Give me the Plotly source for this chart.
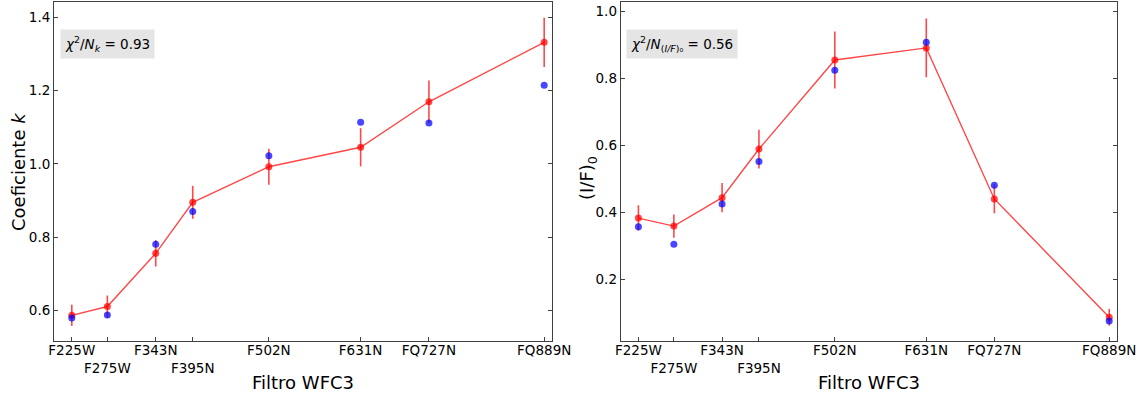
import plotly.graph_objects as go

# WFC3 filters and their central wavelengths (nm)
filters = ["F225W", "F275W", "F343N", "F395N", "F502N", "F631N", "FQ727N", "FQ889N"]
wavelength = [225, 275, 343, 395, 502, 631, 727, 889]
# filters whose label goes on the second row (crowded short-wavelength end)
lower_row = ["F275W", "F395N"]

# Coefficient k: retrieved values, their errors, and model values
k_obs = [0.587, 0.611, 0.756, 0.895, 0.992, 1.045, 1.169, 1.331]
k_err = [0.029, 0.030, 0.036, 0.045, 0.049, 0.052, 0.058, 0.067]
k_model = [0.580, 0.588, 0.781, 0.870, 1.022, 1.113, 1.111, 1.214]

# (I/F)_0: retrieved values, their errors, and model values
if_obs = [0.382, 0.358, 0.443, 0.588, 0.854, 0.890, 0.439, 0.086]
if_err = [0.038, 0.035, 0.044, 0.058, 0.085, 0.088, 0.043, 0.025]
if_model = [0.356, 0.304, 0.424, 0.551, 0.823, 0.907, 0.480, 0.075]

chi_k = 0.93
chi_if = 0.56

RED = "rgba(255,0,0,0.72)"
BLUE = "rgba(0,0,255,0.72)"
AXIS = "#404040"
FONT = "DejaVu Sans, sans-serif"

tick_text = ["<br>" + f if f in lower_row else f for f in filters]

fig = go.Figure()

for obs, err, model, xa, ya in [
    (k_obs, k_err, k_model, "x", "y"),
    (if_obs, if_err, if_model, "x2", "y2"),
]:
    fig.add_trace(go.Scatter(
        x=wavelength, y=obs, mode="lines+markers",
        line=dict(color=RED, width=1.4),
        marker=dict(color=RED, size=7),
        error_y=dict(type="data", array=err, color=RED, thickness=1.6, width=0),
        xaxis=xa, yaxis=ya, showlegend=False,
    ))
    fig.add_trace(go.Scatter(
        x=wavelength, y=model, mode="markers",
        marker=dict(color=BLUE, size=7),
        xaxis=xa, yaxis=ya, showlegend=False,
    ))

xcommon = dict(
    range=[200, 900], tickmode="array", tickvals=wavelength, ticktext=tick_text,
    tickangle=0, automargin=False, ticklabelstandoff=-3,
    ticks="inside", ticklen=4, tickcolor=AXIS, showline=True, linecolor=AXIS,
    linewidth=1, mirror=True, showgrid=False, zeroline=False,
    tickfont=dict(size=13.5, color="black", family=FONT),
)
ycommon = dict(
    automargin=False,
    ticks="inside", ticklen=4, tickcolor=AXIS, showline=True, linecolor=AXIS,
    linewidth=1, mirror="ticks", showgrid=False, zeroline=False,
    tickfont=dict(size=13.5, color="black", family=FONT),
)

fig.update_layout(
    width=1140, height=399,
    margin=dict(l=54, r=23, t=2, b=58),
    plot_bgcolor="white", paper_bgcolor="white",
    font=dict(family=FONT, color="black"),
    xaxis=dict(domain=[0, 0.4685], anchor="y", **xcommon),
    xaxis2=dict(domain=[0.5331, 1], anchor="y2", **xcommon),
    yaxis=dict(anchor="x", range=[0.517, 1.441], tickvals=[0.6, 0.8, 1.0, 1.2, 1.4],
               tickformat=".1f", **ycommon),
    yaxis2=dict(anchor="x2", range=[0.015, 1.027], tickvals=[0.2, 0.4, 0.6, 0.8, 1.0],
                tickformat=".1f", **ycommon),
)

# axis titles
title_font = dict(size=18, color="black", family=FONT)
for xd, text in [("x domain", "Filtro WFC3"), ("x2 domain", "Filtro WFC3")]:
    fig.add_annotation(xref=xd, yref="paper", x=0.5, y=0, yshift=-29,
                       xanchor="center", yanchor="top", text=text,
                       showarrow=False, font=title_font)
fig.add_annotation(xref="paper", yref="y domain", x=0, xshift=-54 + 6, y=0.5,
                   xanchor="left", yanchor="middle", textangle=-90,
                   text="Coeficiente <i>k</i>", showarrow=False, font=title_font)
fig.add_annotation(xref="x2 domain", yref="y2 domain", x=0, xshift=-46, y=0.48,
                   xanchor="left", yanchor="middle", textangle=-90,
                   text="(I/F)<sub>0</sub>", showarrow=False, font=title_font)

# goodness-of-fit boxes
fig.add_annotation(
    xref="x domain", yref="y domain", x=0.012, y=0.876, xanchor="left", yanchor="middle",
    text=f"<i>χ</i><sup>2</sup>/<i>N<sub>k</sub></i> = {chi_k:.2f}",
    showarrow=False, bgcolor="#e5e5e5", borderpad=4,
    font=dict(size=13.5, color="black", family=FONT),
)
fig.add_annotation(
    xref="x2 domain", yref="y2 domain", x=0.011, y=0.876, xanchor="left", yanchor="middle",
    text=f"<i>χ</i><sup>2</sup>/<i>N</i><sub>(<i>I/F</i>)₀</sub> = {chi_if:.2f}",
    showarrow=False, bgcolor="#e5e5e5", borderpad=4,
    font=dict(size=13.5, color="black", family=FONT),
)

fig.write_html("out.html")
